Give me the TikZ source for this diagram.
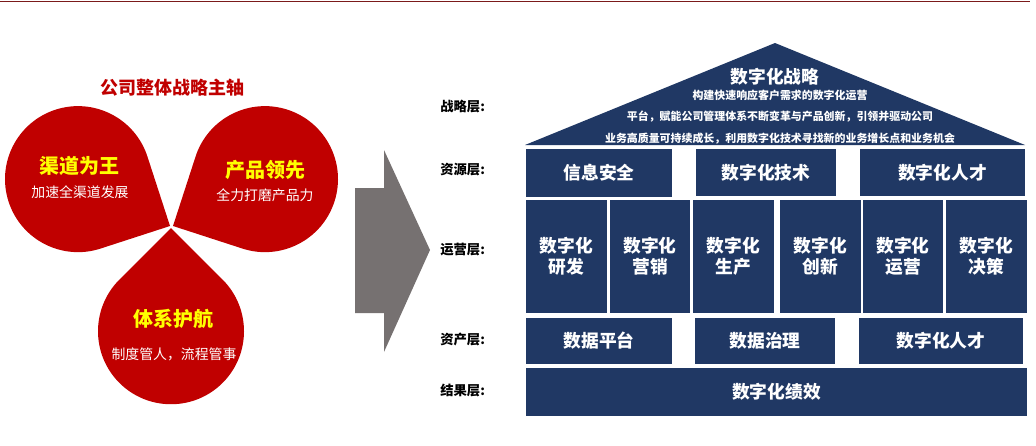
\documentclass[tikz,border=0pt]{standalone}
\usepackage{fontspec}
\setmainfont{Noto Sans CJK SC}
\definecolor{qnavy}{RGB}{32,56,100}
\definecolor{qred}{RGB}{192,0,0}
\definecolor{qgray}{RGB}{118,113,113}
\definecolor{qline}{RGB}{123,26,26}
\definecolor{qyellow}{RGB}{255,255,0}

\begin{document}
\begin{tikzpicture}[x=0.75pt,y=-0.75pt,
 tile/.style={fill=qnavy, text=white, inner sep=0pt, align=center,
  font=\bfseries\fontsize{13.3}{15.8}\selectfont},
 layer/.style={anchor=west, inner sep=0pt, font=\bfseries\fontsize{10}{12}\selectfont},
 petalhead/.style={text=qyellow, inner sep=0pt, font=\bfseries\fontsize{15}{18}\selectfont},
 petalsub/.style={text=white, inner sep=0pt, font=\fontsize{10.4}{12}\selectfont},
 roofline/.style={text=white, inner sep=0pt, font=\bfseries\fontsize{8.2}{10}\selectfont}]

\useasboundingbox (0,0) rectangle (1036,446);

%top rule
\draw[qline, line width=1.1pt] (0,1.5) -- (1030,1.5);

%petals
\node[text=qred, inner sep=0pt, font=\bfseries\fontsize{13.5}{16}\selectfont] (axis) at (172,88) {公司整体战略主轴};
\foreach \tx/\ty/\a in {170/226/153, 173/226/27, 171/228/270}{
 \fill[qred] (\tx,\ty) -- ++({\a-45}:54.75pt) arc[start angle=\a-135, end angle=\a+135, radius=54.75pt] -- cycle;
}
\node[petalhead] (chan) at (79,166) {渠道为王};
\node[petalsub] (chansub) at (80,192) {加速全渠道发展};
\node[petalhead] (prod) at (265,170) {产品领先};
\node[petalsub] (prodsub) at (265,195) {全力打磨产品力};
\node[petalhead] (sys) at (173,319) {体系护航};
\node[petalsub] (syssub) at (174,354) {制度管人，流程管事};

%big arrow
\fill[qgray] (355,188) -- (384,188) -- (384,150) -- (430,250) -- (384,352) -- (384,313) -- (355,313) -- cycle;

%layer names
\node[layer] (lstrat) at (440,107) {战略层:};
\node[layer] (lres) at (440,170) {资源层:};
\node[layer] (lops) at (440,250) {运营层:};
\node[layer] (lasset) at (440,339) {资产层:};
\node[layer] (lresult) at (440,390) {结果层:};

%roof
\fill[qnavy] (525,145) -- (775,43) -- (1025,145) -- cycle;
\node[roofline, font=\bfseries\fontsize{13.3}{16}\selectfont] (strat) at (775,77) {数字化战略};
\node[roofline] (strat1) at (780,95) {构建快速响应客户需求的数字化运营};
\node[roofline] (strat2) at (780,117) {平台，赋能公司管理体系不断变革与产品创新，引领并驱动公司};
\node[roofline] (strat3) at (780,139) {业务高质量可持续成长，利用数字化技术寻找新的业务增长点和业务机会};

%resources
\node[tile, minimum width=146*0.75pt, minimum height=48*0.75pt] (sec) at (599,173) {信息安全};
\node[tile, minimum width=140*0.75pt, minimum height=47*0.75pt] (tech) at (766,172.5) {数字化技术};
\node[tile, minimum width=165*0.75pt, minimum height=47*0.75pt] (talent) at (942.5,172.5) {数字化人才};

%operations
\foreach \xc/\w/\txt [count=\i] in {566.5/81/研发, 650/80/营销, 733.5/81/生产, 820.5/81/创新, 903/80/运营, 986.5/81/决策}{
 \node[tile, minimum width=\w*0.75pt, minimum height=113*0.75pt] (op\i) at (\xc,256.5) {数字化\\\txt};
}

%assets
\node[tile, minimum width=146*0.75pt, minimum height=46*0.75pt] (data) at (599,341) {数据平台};
\node[tile, minimum width=140*0.75pt, minimum height=46*0.75pt] (gov) at (765,341) {数据治理};
\node[tile, minimum width=164*0.75pt, minimum height=46*0.75pt] (talent2) at (941,341) {数字化人才};

%result
\node[tile, minimum width=501*0.75pt, minimum height=48*0.75pt] (perf) at (776.5,392) {数字化绩效};

\end{tikzpicture}
\end{document}
